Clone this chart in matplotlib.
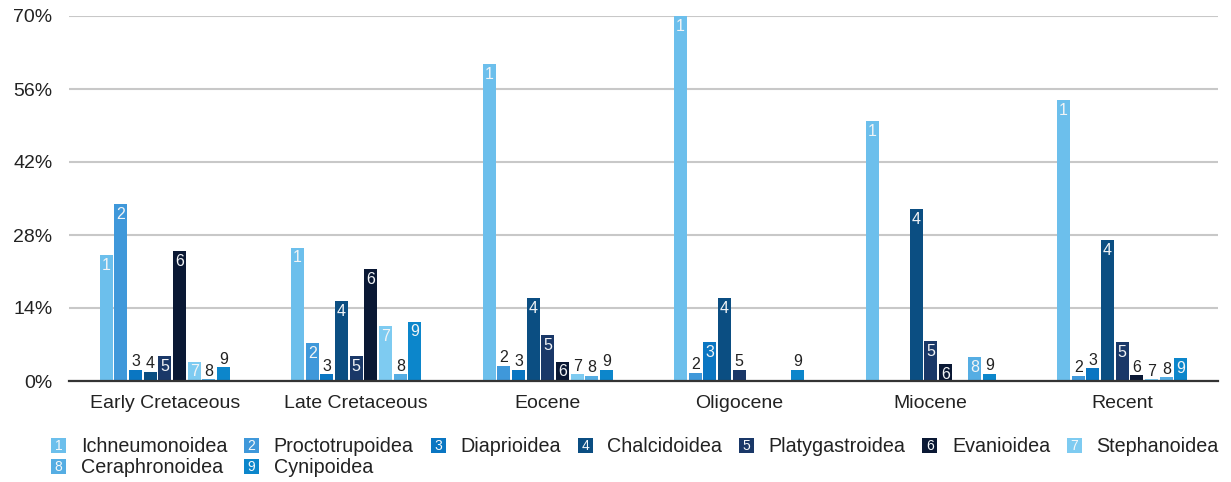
import matplotlib
matplotlib.use("Agg")
import matplotlib.pyplot as plt
import numpy as np
from matplotlib.patches import Rectangle
from matplotlib.legend_handler import HandlerBase
from matplotlib.ticker import FuncFormatter

plt.rcParams['font.family'] = ['Liberation Sans', 'DejaVu Sans']

periods = ["Early Cretaceous", "Late Cretaceous", "Eocene", "Oligocene", "Miocene", "Recent"]
superfamilies = ["Ichneumonoidea", "Proctotrupoidea", "Diaprioidea", "Chalcidoidea",
                 "Platygastroidea", "Evanioidea", "Stephanoidea", "Ceraphronoidea", "Cynipoidea"]

ichneumonoidea = [24.2, 25.6, 60.8, 70.0, 49.9, 53.9]
proctotrupoidea = [33.9, 7.2, 2.9, 1.5, 0.0, 1.0]
diaprioidea = [2.1, 1.3, 2.2, 7.4, 0.0, 2.4]
chalcidoidea = [1.8, 15.3, 15.9, 15.9, 32.9, 27.0]
platygastroidea = [4.7, 4.7, 8.8, 2.1, 7.7, 7.4]
evanioidea = [24.9, 21.4, 3.7, 0.0, 3.2, 1.1]
stephanoidea = [3.7, 10.6, 1.3, 0.0, 0.0, 0.3]
ceraphronoidea = [0.3, 1.3, 1.0, 0.0, 4.6, 0.7]
cynipoidea = [2.6, 11.4, 2.2, 2.1, 1.4, 4.4]

series = [ichneumonoidea, proctotrupoidea, diaprioidea, chalcidoidea, platygastroidea,
          evanioidea, stephanoidea, ceraphronoidea, cynipoidea]

colors = ["#6CBFEC", "#3F98DA", "#0A76C2", "#0B4E82", "#1A3868",
          "#0A1834", "#7ECBF1", "#55ADE3", "#0C86CB"]

yticks = [0, 14, 28, 42, 56, 70]

W, H = 1231, 482
fig = plt.figure(figsize=(W / 100, H / 100), dpi=100)
ax = fig.add_axes([69 / W, 1 - 381 / H, (1218 - 69) / W, (381 - 16) / H])

x = np.arange(len(periods))
pitch = 0.0766
bw = 0.068
for i, (vals, col) in enumerate(zip(series, colors)):
    xs = x + (i - 4) * pitch
    bars = ax.bar(xs, vals, width=bw, color=col, zorder=3, linewidth=0)
    for b, v in zip(bars, vals):
        if v <= 0:
            continue
        cx = b.get_x() + b.get_width() / 2
        if v >= 3.0:
            ax.annotate(str(i + 1), (cx, v), xytext=(0, -2), textcoords="offset points",
                        ha="center", va="top", fontsize=11.5, color="#F2F4F6", zorder=4)
        else:
            ax.annotate(str(i + 1), (cx, v), xytext=(0, 0.5), textcoords="offset points",
                        ha="center", va="bottom", fontsize=11.5, color="#222222", zorder=4)

ax.set_xlim(-0.5, len(periods) - 0.5)
ax.set_ylim(0, 70)
ax.set_yticks(yticks)
ax.yaxis.set_major_formatter(FuncFormatter(lambda v, p: f"{int(v)}%"))
ax.set_xticks(x)
ax.set_xticklabels(periods)
ax.tick_params(axis="both", length=0, labelsize=14, colors="#222222")
ax.tick_params(axis="x", pad=10)
ax.tick_params(axis="y", pad=12)
ax.grid(axis="y", color="#C8C8C8", linewidth=1.5, zorder=0)
ax.set_axisbelow(True)
for s in ["top", "right", "left"]:
    ax.spines[s].set_visible(False)
ax.spines["bottom"].set_color("#333333")
ax.spines["bottom"].set_linewidth(1.6)
ax.spines["bottom"].set_zorder(5)


class NumHandler(HandlerBase):
    def __init__(self, num, color):
        super().__init__()
        self.num = num
        self.color = color

    def create_artists(self, legend, orig_handle, xdescent, ydescent, width, height,
                       fontsize, trans):
        s = 10.8
        cx = -xdescent + width / 2
        cy = -ydescent + height / 2
        r = Rectangle((cx - s / 2, cy - s / 2), s, s, facecolor=self.color,
                      edgecolor="none", transform=trans)
        t = plt.Text(cx, cy - 0.3, str(self.num), ha="center", va="center",
                     fontsize=10, color="#F5F8FA", transform=trans)
        return [r, t]


handles = [Rectangle((0, 0), 1, 1) for _ in superfamilies]
order = [0, 7, 1, 8, 2, 3, 4, 5, 6]
h_ord = [handles[k] for k in order]
l_ord = [superfamilies[k] for k in order]
hmap = {handles[k]: NumHandler(k + 1, colors[k]) for k in range(9)}
leg = fig.legend(h_ord, l_ord, handler_map=hmap, ncol=7, loc="upper left",
                 bbox_to_anchor=(51.5 / W, 1 - 437 / H), frameon=False,
                 fontsize=14.2, handlelength=0.73, handleheight=0.8,
                 handletextpad=0.75, columnspacing=0.88, labelspacing=0.12,
                 borderpad=0, borderaxespad=0)
for t in leg.get_texts():
    t.set_color("#222222")

fig.savefig("out.png", dpi=100)
